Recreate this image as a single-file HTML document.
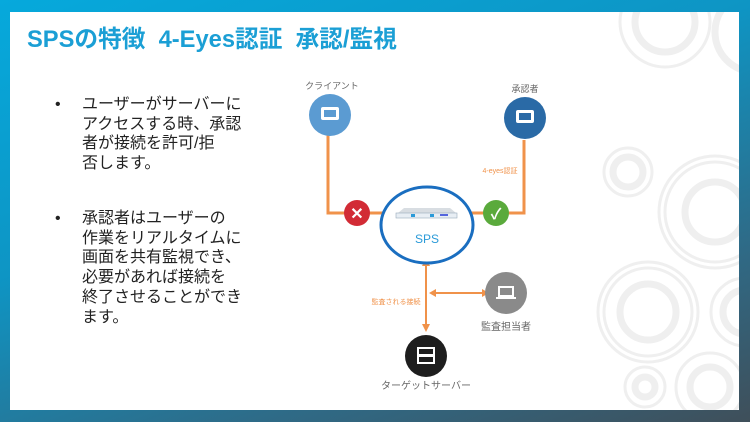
<!DOCTYPE html><html><head><meta charset="utf-8"><style>
body{margin:0;width:750px;height:422px;overflow:hidden;background:linear-gradient(160deg,#06a9dc 0%,#0e95c4 40%,#2f6a86 75%,#3f4f5a 100%);font-family:"Liberation Sans","Noto Sans CJK JP",sans-serif;position:relative}
.panel{position:absolute;left:10px;top:12px;width:729px;height:398px;background:#fff;overflow:hidden}
.t{position:absolute;left:17px;top:8px;font-size:23.7px;font-weight:bold;color:#1b9fd5;white-space:pre}
.b{position:absolute;left:72px;font-size:16px;line-height:19.7px;color:#222;white-space:nowrap}
.b:before{content:"•";position:absolute;left:-27px}
</style></head><body><div class="panel">
<svg width="729" height="398" style="position:absolute;left:0;top:0" fill="none" stroke="#efefef">
<g stroke-width="7"><circle cx="655" cy="10" r="30"/><circle cx="745" cy="20" r="40"/><circle cx="618" cy="160" r="15"/><circle cx="705" cy="200" r="30"/><circle cx="638" cy="300" r="28"/><circle cx="735" cy="300" r="22"/><circle cx="635" cy="375" r="10"/><circle cx="700" cy="375" r="20"/></g>
<g stroke-width="3"><circle cx="655" cy="10" r="45"/><circle cx="618" cy="160" r="24"/><circle cx="705" cy="200" r="50"/><circle cx="705" cy="200" r="56"/><circle cx="638" cy="300" r="44"/><circle cx="638" cy="300" r="50"/><circle cx="735" cy="300" r="34"/><circle cx="635" cy="375" r="20"/><circle cx="700" cy="375" r="34"/></g>
</svg>
<div class="t">SPSの特徴  4-Eyes認証  承認/監視</div>
<div class="b" style="top:83px">ユーザーがサーバーに<br>アクセスする時、承認<br>者が接続を許可/拒<br>否します。</div>
<div class="b" style="top:197px">承認者はユーザーの<br>作業をリアルタイムに<br>画面を共有監視でき、<br>必要があれば接続を<br>終了させることができ<br>ます。</div>
</div>
<svg width="750" height="422" style="position:absolute;left:0;top:0" font-family="Liberation Sans,Noto Sans CJK JP,sans-serif">
<g stroke="#f0924a" stroke-width="3" fill="none"><path d="M328 135V213H385"/><path d="M524 140V213H470"/></g>
<g stroke="#f0924a" stroke-width="2"><path d="M426 265V325"/><path d="M434 293H484"/></g>
<g fill="#f0924a"><path d="M422 266l4-8 4 8z"/><path d="M422 324l4 8 4-8z"/><path d="M436 289l-7 4 7 4z"/><path d="M482 289l7 4-7 4z"/></g>
<circle cx="330" cy="115" r="21" fill="#5b9bd2"/><circle cx="525" cy="118" r="21" fill="#2a6aa6"/>
<g fill="#fff"><rect x="321" y="107" width="18" height="13" rx="2"/><rect x="516" y="110" width="18" height="13" rx="2"/></g>
<g fill="#5b9bd2"><rect x="324" y="110" width="12" height="7"/></g><g fill="#2a6aa6"><rect x="519" y="113" width="12" height="7"/></g>
<circle cx="357" cy="213" r="13" fill="#d22b35"/><text x="357" y="219" font-size="16" font-weight="bold" fill="#fff" text-anchor="middle">✕</text>
<circle cx="496" cy="213" r="13" fill="#5aaa3c"/><text x="496" y="219" font-size="15" font-weight="bold" fill="#fff" text-anchor="middle">✓</text>
<ellipse cx="427" cy="225" rx="46" ry="38" fill="#fff" stroke="#1a6ec0" stroke-width="3"/>
<path d="M398 213l6-5h46l6 5z" fill="#d8dde2"/><rect x="396" y="213" width="61" height="5" fill="#e8eef4" stroke="#9ab" stroke-width=".6"/>
<rect x="411" y="214" width="4" height="3" fill="#2a9ad8"/><rect x="430" y="214" width="4" height="3" fill="#2a9ad8"/><rect x="440" y="214" width="8" height="2" fill="#56d"/>
<text x="427" y="243" font-size="12" fill="#2a9ad8" text-anchor="middle">SPS</text>
<circle cx="506" cy="293" r="21" fill="#8a8a8a"/><rect x="499" y="287" width="14" height="9" fill="none" stroke="#fff" stroke-width="2"/><rect x="496" y="297" width="20" height="2" fill="#fff"/>
<circle cx="426" cy="356" r="21" fill="#1e1e1e"/><rect x="418" y="348" width="16" height="7" fill="none" stroke="#fff" stroke-width="2"/><rect x="418" y="356" width="16" height="7" fill="none" stroke="#fff" stroke-width="2"/>
<g font-size="9" fill="#666" text-anchor="middle"><text x="332" y="89">クライアント</text><text x="525" y="92">承認者</text><text x="506" y="330" font-size="10">監査担当者</text><text x="426" y="389" font-size="10">ターゲットサーバー</text></g>
<g font-size="7" fill="#f0924a" text-anchor="middle"><text x="500" y="173">4-eyes認証</text><text x="396" y="304">監査される接続</text></g>
</svg></body></html>
